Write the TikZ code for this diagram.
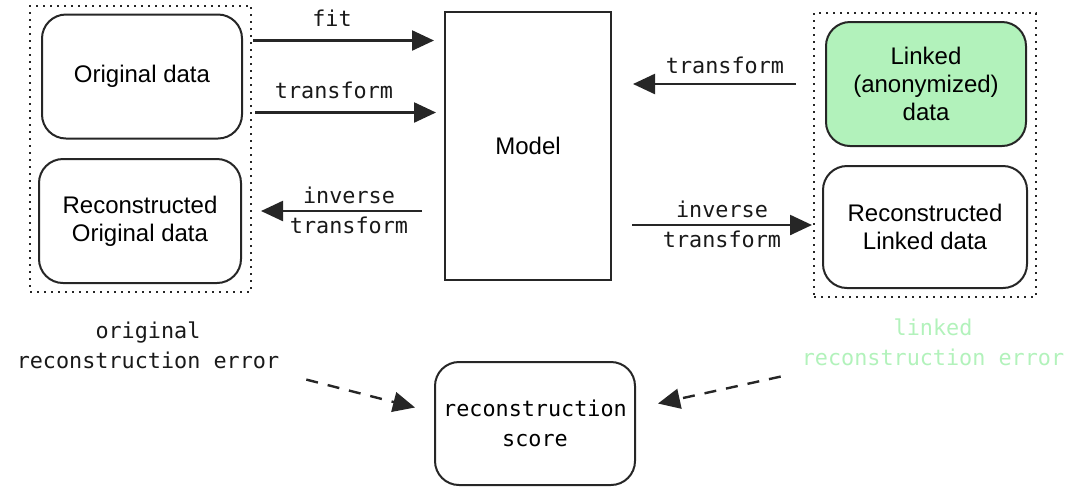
\documentclass[tikz,border=0pt]{standalone}
\usepackage{fontspec}
\setmainfont{Liberation Sans}
\setmonofont{DejaVu Sans Mono}
\usepackage{tikz}
\usetikzlibrary{arrows.meta, fit}
\definecolor{linkgreen}{HTML}{B2F2BB}

\begin{document}
\begin{tikzpicture}[
  x=0.5pt, y=-0.5pt,
  data/.style={draw=black!85, line width=1pt, rounded corners=12pt, align=center,
    inner sep=0pt, minimum width=100pt, minimum height=62pt, font=\fontsize{12}{14}\selectfont},
  group/.style={draw=black!85, line width=1pt, dash pattern=on 1pt off 2.5pt, inner sep=4pt},
  lbl/.style={font=\ttfamily\fontsize{10.9}{15}\selectfont, align=center, text=black!90},
  flow/.style={-{Triangle[length=11pt,width=10pt]}, line width=1.2pt, draw=black!85},
  score/.style={flow, dash pattern=on 6pt off 5pt}
]
\useasboundingbox (0,0) rectangle (1076,500);

% Original side
\node[data] (orig) at (142,76.5) {Original data};
\node[data, minimum width=101pt] (recO) at (140,221) {Reconstructed\\Original data};
\node[group, fit=(orig) (recO)] (origGroup) {};

% Model
\node[draw=black!85, line width=1pt, minimum width=83pt, minimum height=134pt,
  font=\fontsize{12}{14}\selectfont] (model) at (528,146) {Model\\[4pt]};

% Linked side
\node[data, fill=linkgreen] (linked) at (926,84) {Linked\\(anonymized)\\data};
\node[data, minimum width=102pt, minimum height=61pt] (recL) at (925,227) {Reconstructed\\Linked data};
\node[group, fit=(linked) (recL)] (linkGroup) {};

% Score
\node[data, font=\ttfamily\fontsize{10.9}{15}\selectfont, minimum height=61.5pt] (score) at (535,423.5) {reconstruction\\score};

% Labels
\node[lbl] (fitL) at (332,18) {fit};
\node[lbl] (transL) at (334,90) {transform};
\node[lbl] (invL) at (349,210) {inverse\\transform};
\node[lbl] (transR) at (725,65) {transform};
\node[lbl] (invR) at (722,224) {inverse\\transform};
\node[lbl] (origErr) at (148,345) {original\\reconstruction error};
\node[lbl, text=linkgreen] (linkErr) at (933,342) {linked\\reconstruction error};

% Connections
\draw[flow, shorten <=5pt, shorten >=5pt] ([yshift=18pt]orig.east) -- ([yshift=18pt]orig.east -| model.west);
\draw[flow, shorten <=6pt, shorten >=4pt] ([yshift=-18pt]orig.east) -- ([yshift=-18pt]orig.east -| model.west);
\draw[flow, shorten <=11pt, shorten >=9.5pt] ([yshift=5pt]recO.east -| model.west) -- ([yshift=5pt]recO.east);
\draw[flow, shorten <=14.5pt, shorten >=10.5pt] (linked.west) -- (linked.west -| model.east);
\draw[flow, shorten <=10pt, shorten >=5pt] ([yshift=1pt]recL.west -| model.east) -- ([yshift=1pt]recL.west);

% Errors to score
\draw[score] ([shift={(20,4)}]origErr.south east) -- ([shift={(-19,-16)}]score.west);
\draw[score] ([shift={(-14,4)}]linkErr.south west) -- ([shift={(22,-20)}]score.east);

\end{tikzpicture}
\end{document}
